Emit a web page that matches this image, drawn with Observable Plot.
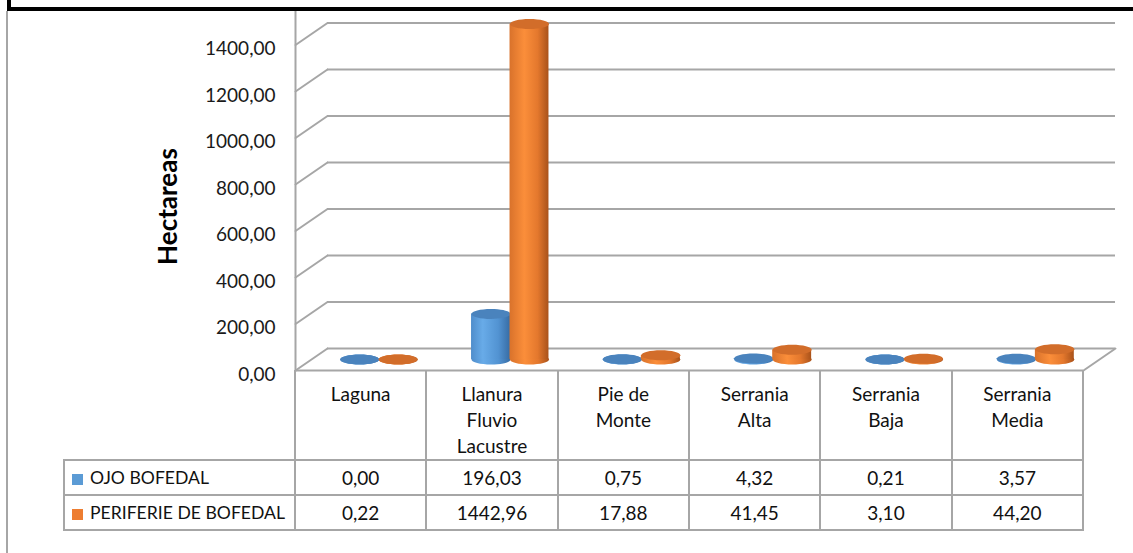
<!DOCTYPE html>
<html lang="es">
<head>
<meta charset="utf-8">
<script src="https://cdn.jsdelivr.net/npm/d3@7"></script>
<script src="https://cdn.jsdelivr.net/npm/@observablehq/plot@0.6"></script>
<style>
  html, body { margin: 0; padding: 0; background: #fff; }
  #frame { position: relative; width: 1133px; height: 553px; overflow: hidden; background: #fff;
           font-family: Lato, "Open Sans", sans-serif; }
  #frame > svg { position: absolute; left: 0; top: -2px; }
  #top-box { position: absolute; left: 7px; top: 0; width: 1140px; height: 7px; background: #fff;
             border-left: 4px solid #000; border-bottom: 4px solid #000; z-index: 3; }
  #left-edge { position: absolute; left: 6px; top: 11px; width: 2px; height: 560px; background: #a6a6a6; z-index: 2; }
  table.data { position: absolute; border-collapse: collapse; table-layout: fixed; font-size: 19px;
               color: #111; z-index: 1; }
  table.data td { border: 2px solid #a6a6a6; padding: 0; text-align: center; vertical-align: middle;
                  height: 33px; line-height: 26px; white-space: nowrap; }
  table.data tr.head td { border-top: none; vertical-align: top; height: 76px; padding-top: 11px; }
  table.data tr.head td.corner { border-left: none; }
  table.data td.series { text-align: left; padding-left: 7px; font-size: 17.6px; }
  table.data .swatch { display: inline-block; width: 11px; height: 11px; margin-right: 7px; vertical-align: -1px; }
</style>
</head>
<body>
<div id="frame"></div>
<script>
// Superficie (ha) por unidad fisiográfica
const categories = ["Laguna", "Llanura Fluvio Lacustre", "Pie de Monte", "Serrania Alta", "Serrania Baja", "Serrania Media"];
const categoryLines = [["Laguna"], ["Llanura", "Fluvio", "Lacustre"], ["Pie de", "Monte"], ["Serrania", "Alta"], ["Serrania", "Baja"], ["Serrania", "Media"]];
const seriesNames = ["OJO BOFEDAL", "PERIFERIE DE BOFEDAL"];
const ojoBofedal = [0.00, 196.03, 0.75, 4.32, 0.21, 3.57];
const periferiaBofedal = [0.22, 1442.96, 17.88, 41.45, 3.10, 44.20];
const gridTicks = [0, 200, 400, 600, 800, 1000, 1200, 1400, 1600];
const labelTicks = [0, 200, 400, 600, 800, 1000, 1200, 1400];
const yTitle = "Hectareas";

const seriesColors = ["#5B9BD5", "#ED7D31"];
const topColors = ["#4A83BD", "#D26D2A"];
const gridColor = "#a6a6a6";

const fmt = v => v.toFixed(2).replace(".", ",");

const rowsOjo = categories.map((c, i) => ({category: c, value: ojoBofedal[i]}));
const rowsPeriferia = categories.map((c, i) => ({category: c, value: periferiaBofedal[i]}));

// oblique depth of the 3‑D walls (pixels)
const depthX = 32, depthY = -22;
const depthLen = Math.hypot(depthX, depthY);
const depthAngle = Math.atan2(depthX, -depthY) * 180 / Math.PI;

// a plain line segment as vector shape
const edge = { draw(context, l) { context.moveTo(0, 0); context.lineTo(0, -l); } };

// ellipse symbol for the cylinder caps
const cap = {
  draw(context) {
    const rx = 19.5, ry = 5, k = 0.5523;
    context.moveTo(rx, 0);
    context.bezierCurveTo(rx, ry * k, rx * k, ry, 0, ry);
    context.bezierCurveTo(-rx * k, ry, -rx, ry * k, -rx, 0);
    context.bezierCurveTo(-rx, -ry * k, -rx * k, -ry, 0, -ry);
    context.bezierCurveTo(rx * k, -ry, rx, -ry * k, rx, 0);
    context.closePath();
  }
};

// one cylinder series: bottom cap, body, top cap
function cylinders(rows, gradientId, topColor, dx) {
  const dy = depthY / 2;
  return [
    Plot.dot(rows, {x: "category", y: () => 0, symbol: cap, fill: `url(#${gradientId})`, stroke: "none", dx, dy}),
    Plot.barY(rows, {x: "category", y: "value", fill: `url(#${gradientId})`, insetLeft: 46.2, insetRight: 46.2, dx, dy}),
    Plot.dot(rows, {x: "category", y: "value", symbol: cap, fill: topColor, stroke: "none", dx, dy})
  ];
}

const chart = Plot.plot({
  width: 1133,
  height: 555,
  marginLeft: 295,
  marginRight: 50,
  marginTop: 0,
  marginBottom: 183,
  style: {fontFamily: "Lato, 'Open Sans', sans-serif", fontSize: "19px", color: "#1a1a1a", background: "transparent", overflow: "visible"},
  x: {type: "band", domain: categories, padding: 0, round: false, axis: null},
  y: {domain: [0, 1600], axis: null},
  marks: [
    // back wall gridlines and floor back edge
    Plot.ruleY(gridTicks, {dx: depthX, dy: depthY, stroke: gridColor, strokeWidth: 2}),
    // side wall obliques
    Plot.vector(gridTicks, {y: d => d, frameAnchor: "left", length: depthLen, rotate: depthAngle, anchor: "start", shape: edge, stroke: gridColor, strokeWidth: 2}),
    // floor right edge and front edge
    Plot.vector([0], {y: d => d, frameAnchor: "right", length: depthLen, rotate: depthAngle, anchor: "start", shape: edge, stroke: gridColor, strokeWidth: 2}),
    Plot.ruleY([0], {stroke: gridColor, strokeWidth: 2}),
    Plot.frame({anchor: "left", stroke: gridColor, strokeWidth: 2}),
    Plot.axisY({ticks: labelTicks, tickSize: 0, tickPadding: 20, tickFormat: fmt, dy: 4, label: null, fontSize: 19, fill: "#1a1a1a"}),
    Plot.text([yTitle], {text: d => d, frameAnchor: "left", textAnchor: "middle", rotate: -90, dx: -127, dy: 22, fontWeight: "bold", fontSize: 26, fill: "#000"}),
    ...cylinders(rowsOjo, "cyl-blue", topColors[0], -1.5),
    ...cylinders(rowsPeriferia, "cyl-orange", topColors[1], 37)
  ]
});

// cylinder shading
d3.select(chart).insert("defs", ":first-child").html(`
  <linearGradient id="cyl-blue" x1="0" x2="1" y1="0" y2="0">
    <stop offset="0" stop-color="#4f8dcb"/>
    <stop offset="0.3" stop-color="#68abe8"/>
    <stop offset="0.7" stop-color="#5293d2"/>
    <stop offset="1" stop-color="#376ca4"/>
  </linearGradient>
  <linearGradient id="cyl-orange" x1="0" x2="1" y1="0" y2="0">
    <stop offset="0" stop-color="#d9722b"/>
    <stop offset="0.38" stop-color="#fb8e3a"/>
    <stop offset="0.72" stop-color="#e4782d"/>
    <stop offset="1" stop-color="#a9521a"/>
  </linearGradient>`);

const frame = document.getElementById("frame");
frame.appendChild(chart);

const topBox = document.createElement("div");
topBox.id = "top-box";
frame.appendChild(topBox);
const leftEdge = document.createElement("div");
leftEdge.id = "left-edge";
frame.appendChild(leftEdge);

// data table under the floor, columns aligned with the x scale
const xs = chart.scale("x");
const ys = chart.scale("y");
const step = xs.step ?? xs.bandwidth;
const tableLeft = 64;
const legendWidth = xs.range[0] - tableLeft;
const table = document.createElement("table");
table.className = "data";
table.style.left = (tableLeft - 1) + "px";
table.style.top = (ys.apply(0) - 2) + "px";
table.style.width = (legendWidth + step * categories.length + 2) + "px";
let html = `<colgroup><col style="width:${legendWidth}px">` + categories.map(() => `<col style="width:${step}px">`).join("") + `</colgroup>`;
html += `<tr class="head"><td class="corner"></td>` + categoryLines.map(l => `<td>${l.join("<br>")}</td>`).join("") + `</tr>`;
[ojoBofedal, periferiaBofedal].forEach((vals, s) => {
  html += `<tr><td class="series"><span class="swatch" style="background:${seriesColors[s]}"></span>${seriesNames[s]}</td>` +
    vals.map(v => `<td>${fmt(v)}</td>`).join("") + `</tr>`;
});
table.innerHTML = html;
frame.appendChild(table);
</script>
</body>
</html>
